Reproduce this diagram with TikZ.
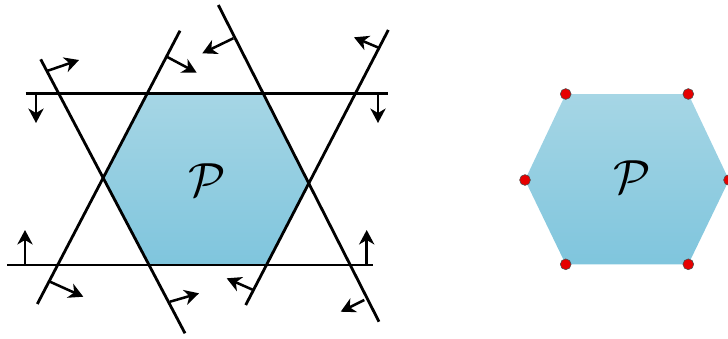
\documentclass[tikz,border=0pt]{standalone}
\usepackage{amsmath,amssymb}
\usepackage{xcolor}
\usetikzlibrary{arrows.meta}
\definecolor{polytop}{RGB}{166,214,229}
\definecolor{polybot}{RGB}{127,197,221}
\definecolor{vtxred}{RGB}{230,0,0}
\newcommand{\polyname}{\scalebox{1.37}{\Huge$\mathcal{P}$}}

\begin{document}
\begin{tikzpicture}[x=0.025cm, y=-0.025cm,
  halfline/.style={line width=2pt, line cap=butt},
  normal/.style={line width=1.8pt, -{Stealth[length=3.6mm,width=3.8mm,inset=1.1mm]}},
  polyfill/.style={top color=polytop, bottom color=polybot, draw=none},
  vtx/.style={circle, fill=vtxred, draw=black!70, line width=0.4pt,
              minimum size=2.7mm, inner sep=0},
]
\useasboundingbox (0,0) rectangle (728,338);
\clip (0,0) rectangle (728,338);
% ---- (a) six half-planes
\coordinate (t1) at (25.7,93.3);  \coordinate (t2) at (388,93.3);
\coordinate (b1) at (7.3,265);    \coordinate (b2) at (373,265);
\coordinate (a1) at (180,30.7);   \coordinate (a2) at (37.3,304);
\coordinate (c1) at (40.7,59.3);  \coordinate (c2) at (185,333.3);
\coordinate (d1) at (218.3,5);    \coordinate (d2) at (379,321.7);
\coordinate (e1) at (388.3,30);   \coordinate (e2) at (245.7,305);
% hexagon = intersection of the half-planes
\coordinate (v1) at (intersection of t1--t2 and a1--a2);
\coordinate (v2) at (intersection of t1--t2 and d1--d2);
\coordinate (v3) at (intersection of d1--d2 and e1--e2);
\coordinate (v4) at (intersection of b1--b2 and e1--e2);
\coordinate (v5) at (intersection of b1--b2 and c1--c2);
\coordinate (v6) at (intersection of a1--a2 and c1--c2);
\shade[polyfill] (v1) -- (v2) -- (v3) -- (v4) -- (v5) -- (v6) -- cycle;
\foreach \p in {t,b,a,c,d,e} {
  \draw[halfline] (\p1) -- (\p2);
}
% normals: base on the line, tip on the feasible side
\foreach \bx/\by/\tx/\ty in {36/93.3/36/123, 378/93.3/378/123,
    25/265/25/230, 366.7/265/366.7/230,
    47/71/79/60, 170/301.7/199/293.3,
    166.7/56.7/196.7/72.7, 50/281.7/83.3/296.7,
    233.3/38.3/202.3/53.3, 364.3/300/340.7/311.7,
    380/48.3/354/37.3, 253.3/290/226.7/278.3} {
  \draw[normal] (\bx,\by) -- (\tx,\ty);
}
\node (pa) at (206.7,180) {\polyname};
% ---- (b) vertex description
\coordinate (w1) at (565.7,94);   \coordinate (w2) at (688.3,94);
\coordinate (w3) at (729,180);    \coordinate (w4) at (688.3,264.3);
\coordinate (w5) at (565.7,264.3); \coordinate (w6) at (525,180);
\shade[polyfill] (w1) -- (w2) -- (w3) -- (w4) -- (w5) -- (w6) -- cycle;
\node (pb) at (631.7,177) {\polyname};
\foreach \i in {1,...,6} {
  \node[vtx] (dot\i) at (w\i) {};
}
\end{tikzpicture}
\end{document}
